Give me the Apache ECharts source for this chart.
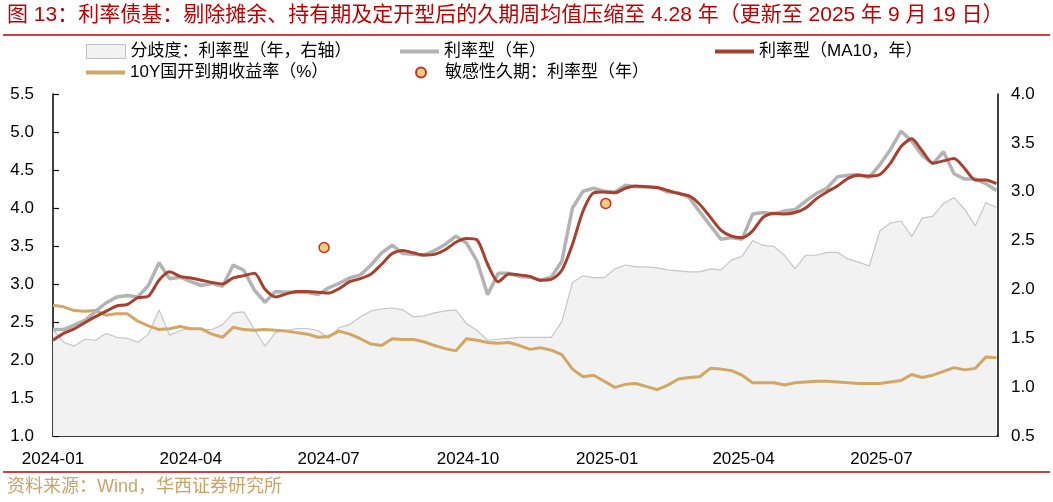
<!DOCTYPE html>
<html>
<head>
<meta charset="utf-8">
<script src="https://cdn.jsdelivr.net/npm/echarts@6/dist/echarts.min.js"></script>
<style>
html,body{margin:0;padding:0;background:#fff;}
#chart{width:1053px;height:502px;}
</style>
</head>
<body>
<div id="chart"></div>
<script>
// ---- data ----
var weeks = ['2024-01-01','2024-01-08','2024-01-15','2024-01-22','2024-01-29','2024-02-05','2024-02-12','2024-02-19','2024-02-26','2024-03-04','2024-03-11','2024-03-18','2024-03-25','2024-04-01','2024-04-08','2024-04-15','2024-04-22','2024-04-29','2024-05-06','2024-05-13','2024-05-20','2024-05-27','2024-06-03','2024-06-10','2024-06-17','2024-06-24','2024-07-01','2024-07-08','2024-07-15','2024-07-22','2024-07-29','2024-08-05','2024-08-12','2024-08-19','2024-08-26','2024-09-02','2024-09-09','2024-09-16','2024-09-23','2024-09-30','2024-10-07','2024-10-14','2024-10-21','2024-10-28','2024-11-04','2024-11-11','2024-11-18','2024-11-25','2024-12-02','2024-12-09','2024-12-16','2024-12-23','2024-12-30','2025-01-06','2025-01-13','2025-01-20','2025-01-27','2025-02-03','2025-02-10','2025-02-17','2025-02-24','2025-03-03','2025-03-10','2025-03-17','2025-03-24','2025-03-31','2025-04-07','2025-04-14','2025-04-21','2025-04-28','2025-05-05','2025-05-12','2025-05-19','2025-05-26','2025-06-02','2025-06-09','2025-06-16','2025-06-23','2025-06-30','2025-07-07','2025-07-14','2025-07-21','2025-07-28','2025-08-04','2025-08-11','2025-08-18','2025-08-25','2025-09-01','2025-09-08','2025-09-15'];

// 利率型（年）
var duration = [2.40,2.40,2.46,2.52,2.64,2.75,2.83,2.85,2.83,2.98, 3.28,3.07,3.09,3.03,2.98,3.01,2.97,3.25,3.18,2.92, 2.76,2.90,2.89,2.89,2.89,2.86,2.95,3.01,3.08,3.12, 3.25,3.41,3.51,3.40,3.39,3.38,3.44,3.52,3.63,3.54, 3.30,2.86,3.14,3.14,3.10,3.09,3.05,3.09,3.30,4.00, 4.22,4.26,4.22,4.21,4.30,4.28,4.28,4.27,4.21,4.20, 4.14,3.95,3.77,3.59,3.61,3.59,3.92,3.94,3.92,3.96, 3.98,4.09,4.19,4.26,4.41,4.43,4.44,4.40,4.57,4.77, 5.01,4.88,4.69,4.58,4.74,4.45,4.38,4.38,4.32,4.23];

// 利率型（MA10，年）
var durationMA10 = [2.26,2.35,2.41,2.49,2.57,2.64,2.71,2.73,2.82,2.84, 3.05,3.16,3.10,3.08,3.05,3.02,3.00,3.08,3.11,3.14, 2.93,2.83,2.87,2.90,2.90,2.89,2.88,2.94,3.03,3.07, 3.13,3.26,3.40,3.44,3.41,3.38,3.39,3.45,3.55,3.60, 3.58,3.26,3.03,3.13,3.12,3.10,3.05,3.06,3.18,3.52, 3.96,4.20,4.21,4.20,4.26,4.29,4.28,4.27,4.23,4.19, 4.16,4.05,3.88,3.71,3.63,3.61,3.70,3.88,3.93,3.92, 3.94,4.00,4.12,4.21,4.29,4.39,4.43,4.42,4.44,4.59, 4.81,4.91,4.75,4.59,4.62,4.65,4.52,4.37,4.37,4.32];

// 10Y国开到期收益率（%）
var cdb10y = [2.72,2.70,2.65,2.64,2.65,2.59,2.61,2.61,2.51,2.45, 2.40,2.41,2.44,2.41,2.41,2.34,2.30,2.43,2.40,2.39, 2.40,2.39,2.38,2.36,2.34,2.30,2.31,2.38,2.34,2.28, 2.21,2.19,2.28,2.27,2.27,2.24,2.19,2.15,2.12,2.28, 2.26,2.23,2.22,2.23,2.19,2.14,2.16,2.13,2.07,1.88, 1.78,1.80,1.72,1.64,1.68,1.69,1.65,1.61,1.67,1.75, 1.77,1.78,1.89,1.88,1.86,1.80,1.70,1.70,1.70,1.67, 1.70,1.71,1.72,1.72,1.71,1.70,1.69,1.69,1.69,1.71, 1.73,1.81,1.77,1.80,1.85,1.90,1.87,1.89,2.04,2.03];

// 分歧度：利率型（年，右轴）
var divergence = [1.59,1.46,1.42,1.49,1.48,1.55,1.51,1.50,1.46,1.54, 1.79,1.53,1.58,1.60,1.59,1.59,1.64,1.76,1.77,1.59, 1.42,1.56,1.58,1.60,1.60,1.58,1.50,1.61,1.64,1.72, 1.78,1.80,1.81,1.79,1.72,1.73,1.76,1.78,1.79,1.65, 1.58,1.48,1.49,1.50,1.51,1.51,1.51,1.51,1.67,2.07, 2.14,2.12,2.12,2.21,2.25,2.23,2.23,2.22,2.20,2.19, 2.18,2.18,2.21,2.20,2.30,2.34,2.50,2.45,2.44,2.35, 2.21,2.35,2.35,2.38,2.38,2.31,2.28,2.24,2.60,2.68, 2.70,2.54,2.73,2.75,2.88,2.94,2.82,2.65,2.89,2.84];

// 敏感性久期：利率型（年）
var sensDates = ['2024-06-28','2024-12-31'];
var sensVals = [3.48, 4.06];

var xTickLabels = ['2024-01','2024-04','2024-07','2024-10','2025-01','2025-04','2025-07'];
var xRange = ['2024-01-01','2025-09-16'];

var names = {
  div: '分歧度：利率型（年，右轴）',
  dur: '利率型（年）',
  ma: '利率型（MA10，年）',
  cdb: '10Y国开到期收益率（%）',
  sens: '敏感性久期：利率型（年）'
};

// ---- helpers ----
function ts(s){ var p = s.split('-'); return Date.UTC(+p[0], +p[1]-1, p[2] ? +p[2] : 1); }
function pairs(dates, vals){ return dates.map(function(d,i){ return [ts(d), vals[i]]; }); }
var tickValues = xTickLabels.map(ts);

var FONT = '"Liberation Sans", "Noto Sans CJK SC", sans-serif';
var chart = echarts.init(document.getElementById('chart'), null, {renderer:'canvas'});

var legendText = {fontSize:17, color:'#000', fontFamily:FONT};
function leg(name, left, top, icon, w, h, extra){
  var o = {data:[{name:name, icon:icon}], left:left, top:top, itemWidth:w, itemHeight:h, padding:0, textStyle:legendText, selectedMode:false};
  if (extra) for (var k in extra) o[k] = extra[k];
  return o;
}

var option = {
  animation:false,
  backgroundColor:'#fff',
  title:{
    text:'图 13：利率债基：剔除摊余、持有期及定开型后的久期周均值压缩至 4.28 年（更新至 2025 年 9 月 19 日）',
    left:7, top:5, padding:0,
    textStyle:{color:'#c00000', fontSize:21, fontWeight:'normal', fontFamily:FONT}
  },
  graphic:[
    {type:'line', shape:{x1:3,y1:35,x2:1050,y2:35}, style:{stroke:'#c00000', lineWidth:1.5}},
    {type:'line', shape:{x1:3,y1:472,x2:1050,y2:472}, style:{stroke:'#c00000', lineWidth:1.5}},
    {type:'text', left:7, top:478, style:{text:'资料来源：Wind，华西证券研究所', fill:'#c9a36a', fontSize:18, fontFamily:FONT}}
  ],
  legend:[
    leg(names.div, 86, 43, 'rect', 39, 14, {itemStyle:{color:'#f2f2f2', borderColor:'#bfbfbf', borderWidth:1}}),
    leg(names.dur, 400, 43, 'rect', 39, 4),
    leg(names.ma, 715, 43, 'rect', 39, 4),
    leg(names.cdb, 86, 64, 'rect', 39, 4),
    leg(names.sens, 415, 64, 'circle', 10, 10, {textStyle:{fontSize:17, color:'#000', fontFamily:FONT, padding:[0,0,0,14]}})
  ],
  grid:{left:53, right:55, top:94, bottom:66, containLabel:false},
  xAxis:{
    type:'value', min:ts(xRange[0]), max:ts(xRange[1]),
    axisLine:{lineStyle:{color:'#000', width:1.5}},
    axisTick:{show:true, inside:true, length:5, customValues:tickValues, lineStyle:{color:'#000', width:1.2}},
    axisLabel:{customValues:tickValues, fontSize:17, color:'#000', margin:15, fontFamily:FONT,
      formatter:function(v){ var d = new Date(v); var m = d.getUTCMonth()+1; return d.getUTCFullYear() + '-' + (m<10?'0':'') + m; }},
    splitLine:{show:false}
  },
  yAxis:[
    {type:'value', min:1, max:5.5, interval:0.5, position:'left',
      axisLine:{show:true, lineStyle:{color:'#000', width:1.5}},
      axisTick:{show:true, inside:true, length:6, lineStyle:{color:'#000', width:1.2}},
      axisLabel:{fontSize:17, color:'#000', margin:19, fontFamily:FONT, formatter:function(v){return v.toFixed(1);}},
      splitLine:{show:false}},
    {type:'value', min:0.5, max:4.0, interval:0.5, position:'right',
      axisLine:{show:true, lineStyle:{color:'#000', width:1.5}},
      axisTick:{show:false},
      axisLabel:{fontSize:17, color:'#000', margin:13, fontFamily:FONT, formatter:function(v){return v.toFixed(1);}},
      splitLine:{show:false}}
  ],
  series:[
    {name:names.div, type:'line', yAxisIndex:1, data:pairs(weeks, divergence), showSymbol:false, symbol:'none',
      lineStyle:{color:'#c6c6c6', width:1.2}, itemStyle:{color:'#f2f2f2', borderColor:'#bfbfbf'},
      areaStyle:{color:'#f2f2f2', opacity:1, origin:'start'}, z:1},
    {name:names.cdb, type:'line', yAxisIndex:0, data:pairs(weeks, cdb10y), showSymbol:false, symbol:'none',
      lineStyle:{color:'#d2a764', width:3}, itemStyle:{color:'#d2a764'}, z:2},
    {name:names.dur, type:'line', yAxisIndex:0, data:pairs(weeks, duration), showSymbol:false, symbol:'none',
      lineStyle:{color:'#b3b3b3', width:3.5}, itemStyle:{color:'#b3b3b3'}, z:3},
    {name:names.ma, type:'line', yAxisIndex:0, data:pairs(weeks, durationMA10), showSymbol:false, symbol:'none', smooth:0.25,
      lineStyle:{color:'#a8402f', width:3}, itemStyle:{color:'#a8402f'}, z:4},
    {name:names.sens, type:'scatter', yAxisIndex:0, data:pairs(sensDates, sensVals), symbol:'circle', symbolSize:10,
      itemStyle:{color:'#e6c25e', borderColor:'#c00000', borderWidth:1.5}, z:5}
  ]
};
chart.setOption(option);
</script>
</body>
</html>
